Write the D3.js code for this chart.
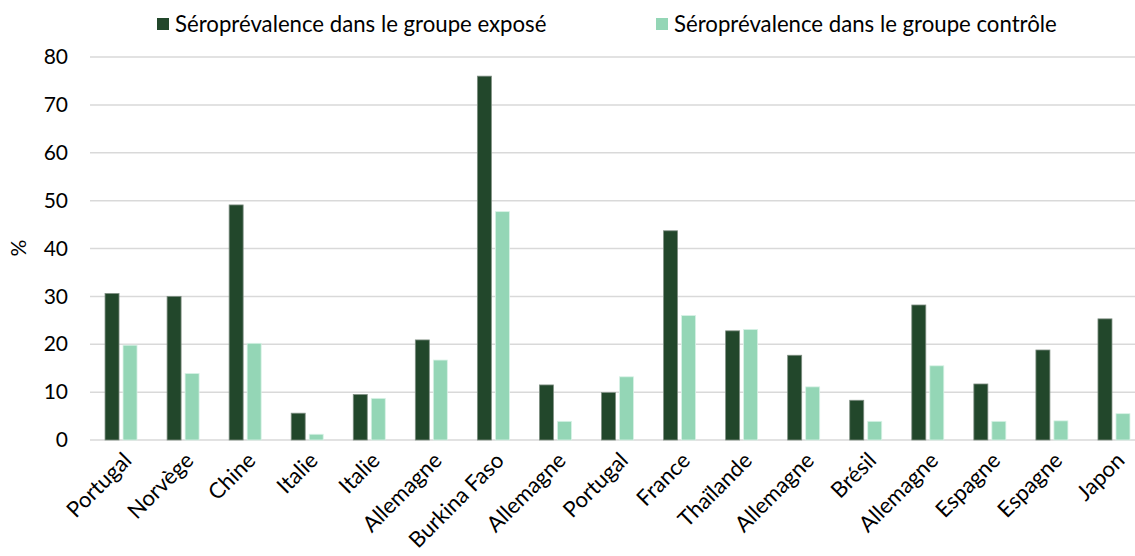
<!DOCTYPE html>
<html><head><meta charset="utf-8">
<script src="https://cdn.jsdelivr.net/npm/d3@7"></script>
<style>body{margin:0;background:#fff}svg{display:block;font-family:Lato,"Noto Sans",sans-serif}</style>
</head><body><svg id="c" width="1135" height="556"></svg>
<script>
const categories = ["Portugal","Norvège","Chine","Italie","Italie","Allemagne","Burkina Faso","Allemagne","Portugal","France","Thaïlande","Allemagne","Brésil","Allemagne","Espagne","Espagne","Japon"];
const exposed = [30.6,30.0,49.1,5.6,9.5,20.9,76.0,11.5,9.9,43.7,22.8,17.7,8.3,28.2,11.7,18.8,25.3];
const control = [19.8,13.9,20.2,1.2,8.7,16.7,47.7,3.9,13.2,26.0,23.1,11.1,3.9,15.5,3.9,4.0,5.5];
const seriesNames = ["Séroprévalence dans le groupe exposé","Séroprévalence dans le groupe contrôle"];
const yTicks = [0,10,20,30,40,50,60,70,80];
const colors = ["#22472B","#94D6B6"];

const svg = d3.select("#c");
const mLeft = 90, mRight = 1145, mTop = 57, mBottom = 440;
const x = d3.scaleBand().domain(d3.range(categories.length)).range([mLeft, mRight]).paddingInner(0).paddingOuter(0);
const y = d3.scaleLinear().domain([0,80]).range([mBottom, mTop]);

// gridlines
svg.append("g").selectAll("line").data(yTicks).join("line")
  .attr("x1", mLeft).attr("x2", mRight)
  .attr("y1", d=>y(d)).attr("y2", d=>y(d))
  .attr("stroke", "#d9d9d9").attr("stroke-width", 1.5);

// y axis labels
const yAxis = d3.axisLeft(y).tickValues(yTicks).tickSize(0).tickPadding(0);
const ga = svg.append("g").attr("transform", `translate(${mLeft-22},0)`).call(yAxis);
ga.select(".domain").remove();
ga.selectAll("text").attr("font-size", 21).attr("fill", "#000").attr("font-family","Lato");

// y title
svg.append("text").attr("transform", "translate(26,248) rotate(-90)")
  .attr("text-anchor","middle").attr("font-size",21).text("%");

const bw = 14, gap = 4;
const g = svg.append("g");
const data = categories.map((c,i)=>({i, v:[exposed[i], control[i]]}));
[0,1].forEach(s=>{
  g.selectAll(".b"+s).data(data).join("rect").attr("class","b"+s)
    .attr("x", d => x(d.i) + x.bandwidth()/2 + (s===0 ? -(bw+gap/2) : gap/2))
    .attr("width", bw)
    .attr("y", d => y(d.v[s]))
    .attr("height", d => y(0) - y(d.v[s]))
    .attr("fill", colors[s])
    .attr("stroke", s===0 ? "#7f8f83" : "#d8f2e6").attr("stroke-width", 0.8);
});

// x labels
svg.append("g").selectAll("text").data(categories).join("text")
  .attr("transform", (d,i)=>`translate(${x(i)+x.bandwidth()/2+1},${mBottom+11}) rotate(-45)`)
  .attr("text-anchor","end").attr("dy","0.7em").attr("font-size",22).text(d=>d);

// legend
const lg = svg.append("g");
const lx = [157, 656];
seriesNames.forEach((n,i)=>{
  lg.append("rect").attr("x", lx[i]).attr("y", 18).attr("width", 12).attr("height", 12).attr("fill", colors[i]);
  lg.append("text").attr("x", lx[i]+18).attr("y", 24).attr("dy","0.36em").attr("font-size",22.2).text(n);
});
</script></body></html>
